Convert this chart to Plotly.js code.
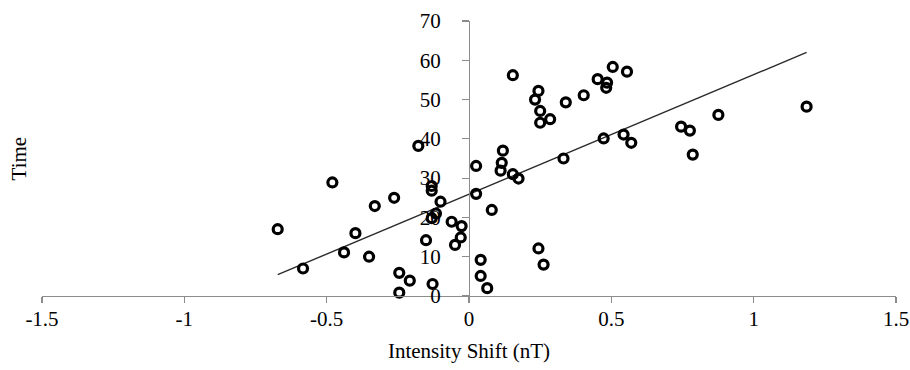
<!DOCTYPE html>
<html>
<head>
<meta charset="utf-8">
<script src="https://cdn.plot.ly/plotly-3.0.1.min.js"></script>
<style>html,body{margin:0;padding:0;background:#fff;}#chart{width:910px;height:370px;}</style>
</head>
<body>
<div id="chart"></div>
<script>
// Intensity shift (nT)
const shiftX = [
  -0.672, -0.583, -0.48, -0.439, -0.399, -0.351, -0.331, -0.263, -0.178, -0.131,
  -0.131, -0.10, -0.116, -0.131, -0.061, -0.026, -0.029, -0.049, -0.151, -0.245,
  -0.208, -0.245, -0.128, 0.025, 0.025, 0.119, 0.115, 0.111, 0.154, 0.174,
  0.332, 0.080, 0.041, 0.041, 0.064, 0.244, 0.262, 0.154, 0.244, 0.232,
  0.25, 0.25, 0.285, 0.34, 0.403, 0.452, 0.485, 0.482, 0.505, 0.555,
  0.473, 0.543, 0.570, 0.745, 0.776, 0.786, 0.876, 1.186
];
// Time
const timeY = [
  17.0, 7.0, 28.9, 11.1, 16.0, 10.0, 22.9, 25.0, 38.2, 28.0,
  26.8, 24.0, 21.0, 19.8, 18.9, 17.8, 14.9, 13.0, 14.2, 5.9,
  3.9, 0.85, 3.05, 33.1, 26.0, 37.0, 33.9, 31.9, 31.0, 29.9,
  35.0, 21.9, 9.2, 5.1, 2.0, 12.1, 8.0, 56.2, 52.2, 50.0,
  47.1, 44.1, 45.0, 49.3, 51.1, 55.2, 54.3, 53.0, 58.3, 57.1,
  40.1, 41.1, 39.0, 43.1, 42.1, 36.0, 46.1, 48.2
];
const xTickVals = [-1.5, -1, -0.5, 0, 0.5, 1, 1.5];
const xTickText = ["-1.5", "-1", "-0.5", "0", "0.5", "1", "1.5"];
const yTickVals = [0, 10, 20, 30, 40, 50, 60, 70];

// linear least-squares trendline from the data
const n = shiftX.length;
const mx = shiftX.reduce((a, b) => a + b, 0) / n;
const my = timeY.reduce((a, b) => a + b, 0) / n;
let sxy = 0, sxx = 0;
for (let i = 0; i < n; i++) { sxy += (shiftX[i] - mx) * (timeY[i] - my); sxx += (shiftX[i] - mx) ** 2; }
const slope = sxy / sxx, icpt = my - slope * mx;
const xMin = Math.min(...shiftX), xMax = Math.max(...shiftX);
const trendX = [xMin, xMax];
const trendY = trendX.map(v => icpt + slope * v);

const axisGray = '#8c8c8c';
const fontFam = '"Liberation Serif", "Times New Roman", serif';

const traces = [
  {
    x: trendX, y: trendY, type: 'scatter', mode: 'lines',
    line: {color: '#2a2a2a', width: 1.4}, hoverinfo: 'skip', showlegend: false
  },
  {
    x: shiftX, y: timeY, type: 'scatter', mode: 'markers',
    marker: {symbol: 'circle-open', size: 9, color: '#000', line: {width: 3.2, color: '#000'}},
    showlegend: false, cliponaxis: false
  }
];

const layout = {
  width: 910, height: 370,
  margin: {l: 42, r: 14, t: 21, b: 74},
  paper_bgcolor: '#fff', plot_bgcolor: '#fff',
  font: {family: fontFam, size: 21, color: '#000'},
  showlegend: false,
  xaxis: {
    range: [-1.5, 1.5], tickvals: xTickVals, ticktext: xTickText,
    showline: true, linecolor: axisGray, linewidth: 1.2,
    ticks: 'outside', ticklen: 6, tickcolor: axisGray, tickwidth: 1.2,
    ticklabelstandoff: -2,
    showgrid: false, zeroline: false,
    tickfont: {family: fontFam, size: 21, color: '#000'},
    title: {text: 'Intensity Shift (nT)', font: {family: fontFam, size: 21, color: '#000'}, standoff: 12}
  },
  yaxis: {
    range: [0, 70], tickvals: yTickVals,
    anchor: 'free', position: 0.5,
    showline: true, linecolor: axisGray, linewidth: 1.2,
    ticks: 'outside', ticklen: 7, tickcolor: axisGray, tickwidth: 1.2,
    ticklabelstandoff: 17,
    showgrid: false, zeroline: false,
    tickfont: {family: fontFam, size: 21, color: '#000'}
  },
  annotations: [{
    text: 'Time', xref: 'paper', yref: 'paper', x: -0.027, y: 0.5,
    xanchor: 'center', yanchor: 'middle', showarrow: false, textangle: -90,
    font: {family: fontFam, size: 21, color: '#000'}
  }]
};

Plotly.newPlot('chart', traces, layout, {displayModeBar: false, staticPlot: true});
</script>
</body>
</html>
